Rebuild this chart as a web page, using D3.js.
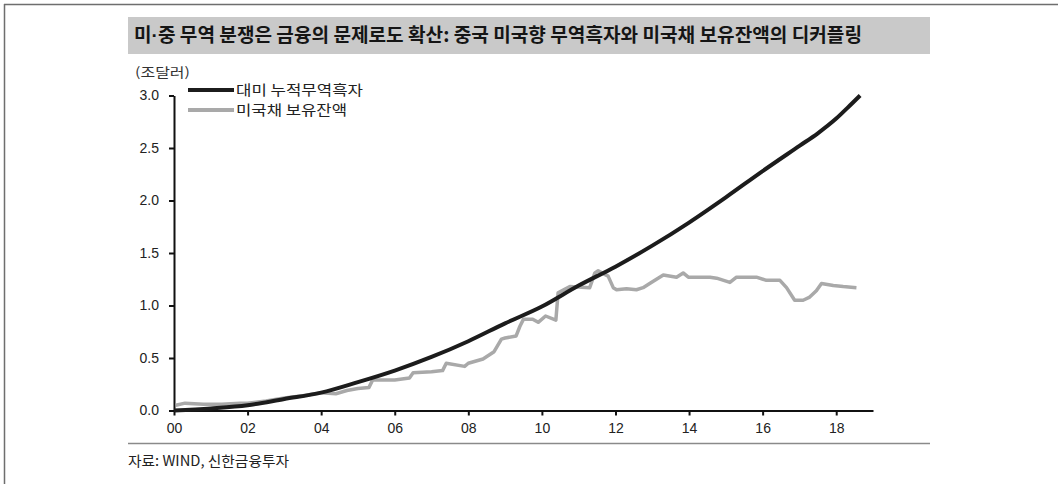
<!DOCTYPE html>
<html>
<head>
<meta charset="utf-8">
<script src="https://cdn.jsdelivr.net/npm/d3@7"></script>
<style>
  html, body { margin: 0; padding: 0; background: #fff; }
  svg { display: block; }
  .kr { font-family: "Noto Sans CJK KR", "Noto Sans", sans-serif; }
  .num { font-family: "Liberation Sans Narrow", "Liberation Sans", Arial, sans-serif; }
</style>
</head>
<body>
<svg id="chart" width="1058" height="484"></svg>
<script>
// Cumulative Chinese trade surplus with the US (trillion USD)
const surplusYears  = [2000, 2001, 2002, 2003, 2004, 2005, 2006, 2007, 2008, 2009, 2010, 2011, 2012, 2013, 2014, 2015, 2016, 2017, 2017.5, 2018, 2018.3, 2018.65];
const surplusValues = [0.00, 0.02, 0.05, 0.11, 0.17, 0.27, 0.38, 0.51, 0.66, 0.83, 0.99, 1.19, 1.37, 1.57, 1.79, 2.03, 2.28, 2.52, 2.64, 2.78, 2.88, 3.00];

// China's holdings of US Treasuries (trillion USD)
const holdingYears  = [2000.05, 2000.3, 2000.8, 2001.3, 2001.8, 2002.0, 2002.5, 2003.0, 2003.5, 2004.0, 2004.4, 2004.7, 2005.0, 2005.3, 2005.4, 2006.0, 2006.4, 2006.5, 2007.0, 2007.3, 2007.4, 2007.9, 2008.0, 2008.4, 2008.7, 2008.9, 2009.0, 2009.3, 2009.4, 2009.5, 2009.75, 2009.9, 2010.1, 2010.38, 2010.44, 2010.76, 2011.30, 2011.44, 2011.53, 2011.80, 2011.94, 2012.03, 2012.30, 2012.57, 2012.75, 2012.93, 2013.30, 2013.66, 2013.84, 2013.98, 2014.57, 2014.75, 2015.11, 2015.29, 2015.83, 2016.10, 2016.47, 2016.65, 2016.87, 2017.10, 2017.28, 2017.46, 2017.60, 2017.92, 2018.19, 2018.55];
const holdingValues = [0.05, 0.07, 0.06, 0.06, 0.07, 0.07, 0.09, 0.12, 0.14, 0.17, 0.16, 0.19, 0.21, 0.22, 0.29, 0.29, 0.31, 0.36, 0.37, 0.38, 0.45, 0.42, 0.45, 0.49, 0.56, 0.68, 0.69, 0.71, 0.80, 0.87, 0.87, 0.84, 0.90, 0.86, 1.12, 1.18, 1.17, 1.31, 1.33, 1.28, 1.17, 1.15, 1.16, 1.15, 1.17, 1.21, 1.29, 1.27, 1.31, 1.27, 1.27, 1.26, 1.22, 1.27, 1.27, 1.24, 1.24, 1.17, 1.05, 1.05, 1.08, 1.14, 1.21, 1.19, 1.18, 1.17];

const xTickYears = [2000, 2002, 2004, 2006, 2008, 2010, 2012, 2014, 2016, 2018];
const xTickLabels = ["00", "02", "04", "06", "08", "10", "12", "14", "16", "18"];
const yTicks = [0, 0.5, 1.0, 1.5, 2.0, 2.5, 3.0];

const titleHead = "미";
const titleDot = "·";
const titleRest = "중 무역 분쟁은 금융의 문제로도 확산: 중국 미국향 무역흑자와 미국채 보유잔액의 디커플링";
const unitText = "(조달러)";
const seriesNames = ["대미 누적무역흑자", "미국채 보유잔액"];
const sourceText = "자료: WIND, 신한금융투자";

const svg = d3.select("#chart");

// Page frame
svg.append("line").attr("x1", 4).attr("x2", 1058).attr("y1", 4.5).attr("y2", 4.5)
  .attr("stroke", "#6e6e6e").attr("stroke-width", 1.5);
svg.append("line").attr("x1", 4.5).attr("x2", 4.5).attr("y1", 4).attr("y2", 484)
  .attr("stroke", "#6e6e6e").attr("stroke-width", 1.5);

// Title band
svg.append("rect").attr("x", 128).attr("y", 17).attr("width", 802).attr("height", 37)
  .attr("fill", "#c9c9c9");
const title = svg.append("text").attr("class", "kr")
  .attr("x", 134).attr("y", 42)
  .attr("font-size", 19).attr("font-weight", 600).attr("fill", "#151515")
  .attr("textLength", 728).attr("lengthAdjust", "spacingAndGlyphs");
title.append("tspan").text(titleHead);
title.append("tspan").attr("font-family", "Liberation Sans, Arial, sans-serif").text(titleDot);
title.append("tspan").text(titleRest);

const x = d3.scaleLinear().domain([2000, 2019]).range([174, 873]);
const y = d3.scaleLinear().domain([0, 3]).range([410.5, 95.5]);

// Y axis
const yAxis = svg.append("g").attr("transform", "translate(174,0)")
  .call(d3.axisLeft(y).tickValues(yTicks).tickFormat(d3.format(".1f")).tickSize(5).tickSizeOuter(0));
yAxis.select(".domain").attr("stroke", "#111").attr("stroke-width", 2);
yAxis.selectAll(".tick line").attr("stroke", "#111").attr("stroke-width", 2);
yAxis.selectAll(".tick text").attr("class", "num").attr("font-size", 14).attr("fill", "#222")
  .attr("x", -15);

// X axis
const xAxis = svg.append("g").attr("transform", "translate(0,410.5)")
  .call(d3.axisBottom(x).tickValues(xTickYears).tickFormat((d, i) => xTickLabels[i]).tickSize(5).tickSizeOuter(0));
xAxis.select(".domain").attr("stroke", "#111").attr("stroke-width", 2);
xAxis.selectAll(".tick line").attr("stroke", "#111").attr("stroke-width", 2);
xAxis.selectAll(".tick text").attr("class", "num").attr("font-size", 14).attr("fill", "#222")
  .attr("y", 13);

// Series lines
const line = d3.line().x(d => x(d[0])).y(d => y(d[1]));
const holding = holdingYears.map((t, i) => [t, holdingValues[i]]);
const surplus = surplusYears.map((t, i) => [t, surplusValues[i]]);

svg.append("path").datum(holding).attr("d", line)
  .attr("fill", "none").attr("stroke", "#a9a9a9").attr("stroke-width", 3.5)
  .attr("stroke-linejoin", "round");
svg.append("path").datum(surplus).attr("d", line.curve(d3.curveMonotoneX))
  .attr("fill", "none").attr("stroke", "#1c1c1c").attr("stroke-width", 4)
  .attr("stroke-linejoin", "round");

// Unit label
svg.append("text").attr("class", "kr").attr("x", 135).attr("y", 77)
  .attr("font-size", 13).attr("fill", "#333")
  .attr("textLength", 55).attr("lengthAdjust", "spacingAndGlyphs")
  .text(unitText);

// Legend
const legendColors = ["#1c1c1c", "#a9a9a9"];
const legendWidths = [127, 111];
seriesNames.forEach((name, i) => {
  const ly = 90 + i * 20;
  svg.append("line").attr("x1", 188).attr("x2", 234).attr("y1", ly).attr("y2", ly)
    .attr("stroke", legendColors[i]).attr("stroke-width", 4);
  svg.append("text").attr("class", "kr").attr("x", 236).attr("y", ly + 5)
    .attr("font-size", 14).attr("fill", "#222")
    .attr("textLength", legendWidths[i]).attr("lengthAdjust", "spacingAndGlyphs")
    .text(name);
});

// Source rule and note
svg.append("line").attr("x1", 128).attr("x2", 930).attr("y1", 443.5).attr("y2", 443.5)
  .attr("stroke", "#8a8a8a").attr("stroke-width", 1.5);
svg.append("text").attr("class", "kr").attr("x", 128).attr("y", 466)
  .attr("font-size", 14).attr("fill", "#222")
  .attr("textLength", 161).attr("lengthAdjust", "spacingAndGlyphs")
  .text(sourceText);
</script>
</body>
</html>
